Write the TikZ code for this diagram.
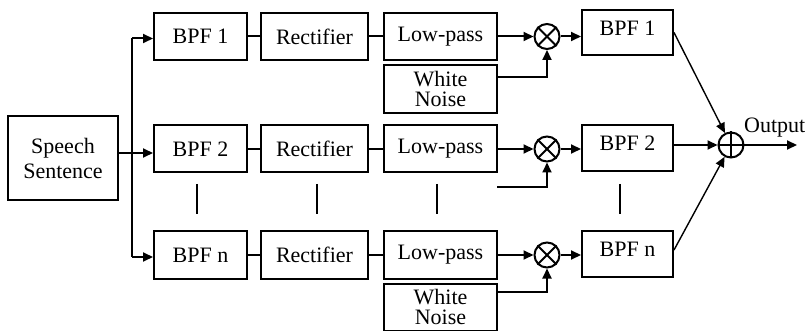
\documentclass[tikz,border=0pt]{standalone}
\usepackage{fontspec}
\setmainfont{Liberation Serif}
\usetikzlibrary{arrows.meta}
\begin{document}
\begin{tikzpicture}[x=1pt,y=-1pt,
  box/.style={draw,line width=2pt,inner sep=0pt,font=\fontsize{22}{20}\selectfont,align=center},
  sumnode/.style={draw,circle,line width=2pt,minimum size=25pt,inner sep=0pt},
  wire/.style={line width=2pt},
  arr/.style={line width=2pt,-{Triangle[length=10pt,width=9pt]}},
  thin arr/.style={line width=1.4pt,-{Triangle[length=10pt,width=9pt]}},
  dashmark/.style={line width=2pt}]
\useasboundingbox (0,0) rectangle (806,331);
% speech
\node[box,minimum width=110pt,minimum height=84pt,font=\fontsize{22}{25}\selectfont] (sp) at (63,158) {Speech\\Sentence};
% left boxes
\foreach \r/\y/\t in {1/36.5/1,2/149/2,n/255/n}{
  \node[box,minimum width=93pt,minimum height=47pt] (b\r) at (200.5,\y) {BPF \t};
  \node[box,minimum width=107pt,minimum height=47pt] (r\r) at (314.5,\y) {Rectifier};
  \node[box,minimum width=113pt,minimum height=47pt] (l\r) at (440.5,\y) {Low-pass};
  \node[sumnode] (m\r) at (547,\y) {};
  \draw[wire] (b\r.east) -- (r\r.west);
  \draw[wire] (r\r.east) -- (l\r.west);
  \draw[arr] (l\r.east) -- (m\r.west);
}
% multiplier crosses
\foreach \r in {1,2,n}{
  \draw[line width=2pt] (m\r.north west) -- (m\r.south east);
  \draw[line width=2pt] (m\r.north east) -- (m\r.south west);
}
% right filters
\node[box,minimum width=91pt,minimum height=45pt,text depth=9pt] (q1) at (627.5,32.5) {BPF 1};
\node[box,minimum width=91pt,minimum height=46pt,text depth=9pt] (q2) at (627.5,148) {BPF 2};
\node[box,minimum width=91pt,minimum height=46pt,text depth=9pt] (qn) at (627.5,254) {BPF n};
\foreach \r in {1,2,n}{
  \draw[arr] (m\r.east) -- (m\r.east -| q\r.west);
}
% white noise
\node[box,minimum width=113pt,minimum height=48pt] (w1) at (440.5,89) {White\\Noise};
\node[box,minimum width=113pt,minimum height=47pt] (wn) at (440.5,307) {White\\Noise};
\coordinate (c1) at (547,77);
\coordinate (c2s) at (497,187);
\coordinate (c2) at (547,187);
\coordinate (cn) at (547,292);
\draw[arr] (c1 -| w1.east) -- (c1) -- (m1.south);
\draw[arr] (c2s) -- (c2) -- (m2.south);
\draw[arr] (cn -| wn.east) -- (cn) -- (mn.south);
% split from speech
\coordinate (vt) at (132,38.5);
\coordinate (vm) at (132,153);
\coordinate (vb) at (132,257);
\draw[wire] (vt) -- (vb);
\draw[arr] (vt) -- (vt -| b1.west);
\draw[arr] (vm -| sp.east) -- (vm -| b2.west);
\draw[arr] (vb) -- (vb -| bn.west);
% adder
\node[sumnode] (ad) at (731,145) {};
\draw[line width=2pt] (ad.north) -- (ad.south);
\draw[line width=2pt] (ad.west) -- (ad.east);
\draw[thin arr] (q1.east) -- (ad);
\draw[arr] (q2.east |- ad) -- (ad.west);
\draw[thin arr] ([yshift=4pt]qn.east) -- (ad);
\coordinate (out) at (797,145);
\draw[arr] (ad.east) -- (out);
\node[font=\fontsize{22}{20}\selectfont,anchor=west,inner sep=0pt] (outl) at (744,128) {Output};
% continuation marks
\foreach \x in {197,317,437,620}{
  \draw[dashmark] (\x,184) -- (\x,214);
}
\end{tikzpicture}
\end{document}
